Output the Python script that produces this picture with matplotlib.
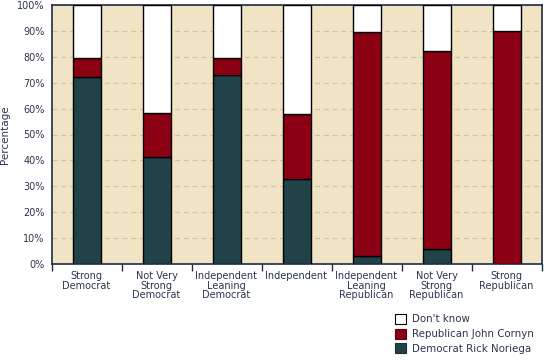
import matplotlib
matplotlib.use("Agg")
import matplotlib.pyplot as plt
from matplotlib.patches import Patch
import numpy as np

categories = ["Strong\nDemocrat", "Not Very\nStrong\nDemocrat", "Independent\nLeaning\nDemocrat",
              "Independent", "Independent\nLeaning\nRepublican", "Not Very\nStrong\nRepublican",
              "Strong\nRepublican"]
democrat = [72.1, 41.3, 73.0, 32.7, 2.9, 5.8, 0.0]
republican = [7.4, 17.0, 6.4, 25.2, 86.7, 76.5, 90.0]
dont_know = [20.5, 41.7, 20.6, 42.1, 10.4, 17.7, 10.0]
yticks = [0, 10, 20, 30, 40, 50, 60, 70, 80, 90, 100]
ytick_labels = [f"{v}%" for v in yticks]

dem_color = "#22424a"
rep_color = "#8c0014"
dk_color = "#ffffff"
text_color = "#2b3550"
spine_color = "#1f2a44"

fig = plt.figure(figsize=(5.45, 3.62), dpi=100)
ax = fig.add_axes([51.5/545, 1-264/362, 490/545, 259/362])
ax.set_facecolor("#f1e4c4")

x = np.arange(len(categories))
w = 0.4
ax.bar(x, democrat, w, color=dem_color, edgecolor="black", linewidth=1.0, zorder=3)
ax.bar(x, republican, w, bottom=democrat, color=rep_color, edgecolor="black", linewidth=1.0, zorder=3)
bottom2 = np.array(democrat) + np.array(republican)
ax.bar(x, dont_know, w, bottom=bottom2, color=dk_color, edgecolor="black", linewidth=1.0, zorder=3)

ax.set_xlim(-0.5, len(categories) - 0.5)
ax.set_ylim(0, 100)
ax.set_yticks(yticks)
ax.set_yticklabels(ytick_labels)
ax.yaxis.grid(True, linestyle=(0, (4, 3)), color="#d2c3a2", linewidth=0.9, zorder=1)
ax.set_xticks(x)
ax.set_xticklabels(categories, linespacing=0.95)
ax.set_xticks(np.arange(-0.5, len(categories), 1.0), minor=True)
ax.tick_params(axis="x", which="major", length=0, pad=5, labelsize=7, labelcolor=text_color)
ax.tick_params(axis="x", which="minor", length=5, width=1, color=spine_color, direction="out")
ax.tick_params(axis="y", length=0, pad=5, labelsize=7, labelcolor=text_color)
ax.set_ylabel("Percentage", fontsize=7.5, color=text_color, labelpad=5)
for s in ax.spines.values():
    s.set_color(spine_color)
    s.set_linewidth(1.2)

handles = [Patch(facecolor=dk_color, edgecolor="black", linewidth=0.8, label="Don't know"),
           Patch(facecolor=rep_color, edgecolor="#5a0010", linewidth=0.8, label="Republican John Cornyn"),
           Patch(facecolor=dem_color, edgecolor="#1a3038", linewidth=0.8, label="Democrat Rick Noriega")]
leg = fig.legend(handles=handles, loc="upper left", bbox_to_anchor=(395/545, 1-314/362),
                 frameon=False, fontsize=7.4, handlelength=1.1, handleheight=1.1,
                 handletextpad=0.55, labelspacing=0.42, borderaxespad=0, borderpad=0)
for t in leg.get_texts():
    t.set_color(text_color)

fig.savefig("out.png", dpi=100)
